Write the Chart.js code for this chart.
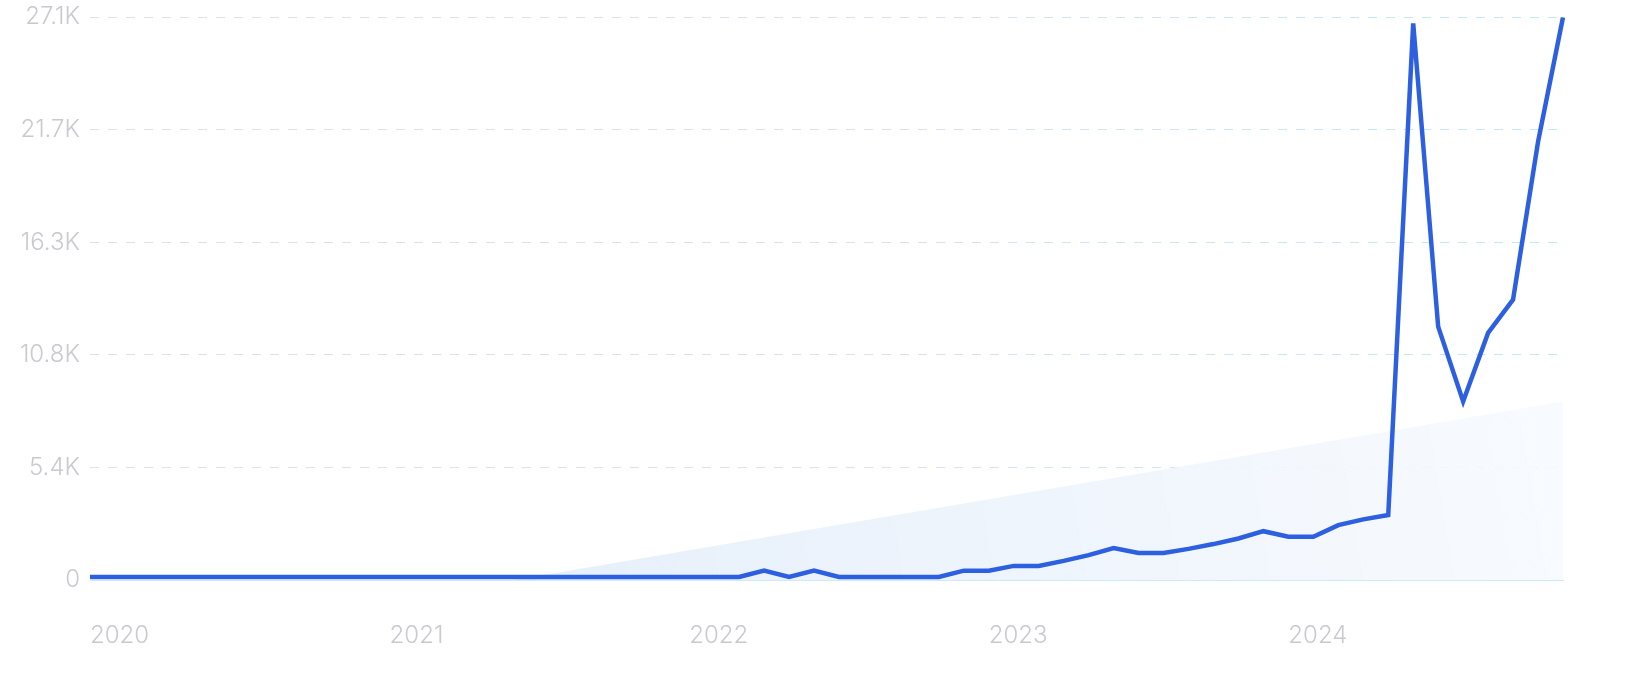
<!DOCTYPE html>
<html>
<head>
<meta charset="utf-8">
<script src="https://cdn.jsdelivr.net/npm/chart.js@4.4.0/dist/chart.umd.min.js"></script>
<style>
    html, body { margin: 0; padding: 0; background: #fff; }
    .chart-container { width: 1641px; height: 700px; position: relative; }
</style>
</head>
<body>
<div class="chart-container"><canvas id="trendChart"></canvas></div>
<script>
// Monthly categories, Jan 2020 .. Dec 2024
const months = [
    'Jan 2020', 'Feb 2020', 'Mar 2020', 'Apr 2020', 'May 2020', 'Jun 2020', 'Jul 2020', 'Aug 2020', 'Sep 2020', 'Oct 2020', 'Nov 2020', 'Dec 2020',
    'Jan 2021', 'Feb 2021', 'Mar 2021', 'Apr 2021', 'May 2021', 'Jun 2021', 'Jul 2021', 'Aug 2021', 'Sep 2021', 'Oct 2021', 'Nov 2021', 'Dec 2021',
    'Jan 2022', 'Feb 2022', 'Mar 2022', 'Apr 2022', 'May 2022', 'Jun 2022', 'Jul 2022', 'Aug 2022', 'Sep 2022', 'Oct 2022', 'Nov 2022', 'Dec 2022',
    'Jan 2023', 'Feb 2023', 'Mar 2023', 'Apr 2023', 'May 2023', 'Jun 2023', 'Jul 2023', 'Aug 2023', 'Sep 2023', 'Oct 2023', 'Nov 2023', 'Dec 2023',
    'Jan 2024', 'Feb 2024', 'Mar 2024', 'Apr 2024', 'May 2024', 'Jun 2024', 'Jul 2024', 'Aug 2024', 'Sep 2024', 'Oct 2024', 'Nov 2024', 'Dec 2024'
];

// Search volume
const volume = [
    150, 150, 150, 150, 150, 150, 150, 150, 150, 150, 150, 150,
    150, 150, 150, 150, 150, 150, 150, 150, 150, 150, 150, 150,
    150, 150, 150, 450, 150, 450, 150, 150, 150, 150, 150, 450,
    450, 680, 680, 920, 1200, 1540, 1300, 1300, 1500, 1730, 2000, 2350,
    2080, 2080, 2640, 2920, 3130, 26800, 12200, 8600, 11900, 13500, 21100, 27100
];

// Trend line end points (month, value)
const trendStart = ['Jun 2021', 0];
const trendEnd = ['Dec 2024', 8600];

const yMax = 27100;
const yStep = 5420;

const fontFamily = 'Inter, "Noto Sans", sans-serif';
const tickColor = '#c9cad1';

function formatK(value) {
    if (value === 0) return '0';
    return (value / 1000).toFixed(1) + 'K';
}

const ctx = document.getElementById('trendChart').getContext('2d');

const chart = new Chart(ctx, {
    type: 'line',
    data: {
        labels: months,
        datasets: [
            {
                label: 'Volume',
                data: volume,
                borderColor: '#2d5fe1',
                borderWidth: 4.5,
                pointRadius: 0,
                tension: 0,
                fill: false,
                order: 0
            },
            {
                label: 'Trend',
                data: [
                    { x: trendStart[0], y: trendStart[1] },
                    { x: trendEnd[0], y: trendEnd[1] }
                ],
                borderWidth: 0,
                borderColor: 'rgba(0,0,0,0)',
                pointRadius: 0,
                fill: 'origin',
                order: 1,
                backgroundColor: function(context) {
                    const area = context.chart.chartArea;
                    if (!area) return 'rgba(230, 239, 251, 0.8)';
                    const g = context.chart.ctx.createLinearGradient(area.left + 400, area.bottom, area.right, area.bottom - 180);
                    g.addColorStop(0, 'rgba(228, 238, 250, 0.95)');
                    g.addColorStop(1, 'rgba(247, 250, 254, 0.9)');
                    return g;
                }
            }
        ]
    },
    options: {
        responsive: true,
        maintainAspectRatio: false,
        animation: false,
        layout: {
            padding: { top: 4, right: 78, left: 0, bottom: 0 }
        },
        plugins: {
            legend: { display: false },
            tooltip: { enabled: false }
        },
        scales: {
            x: {
                grid: { display: false, drawTicks: false },
                border: { display: true, color: '#cdeaf6', width: 1 },
                afterFit: function(scale) {
                    scale.height = 120;
                },
                ticks: {
                    autoSkip: false,
                    maxRotation: 0,
                    minRotation: 0,
                    align: 'start',
                    padding: 44,
                    color: tickColor,
                    font: { family: fontFamily, size: 24, weight: 300, lineHeight: 1 },
                    callback: function(value, index) {
                        const label = months[index];
                        return label.startsWith('Jan') ? label.slice(4) : null;
                    }
                }
            },
            y: {
                min: 0,
                max: yMax,
                afterFit: function(scale) {
                    scale.width = 90;
                },
                grid: {
                    drawTicks: false,
                    lineWidth: 1,
                    color: function(context) {
                        const area = context.chart.chartArea;
                        if (!area) return '#dfe3ea';
                        const g = context.chart.ctx.createLinearGradient(area.left, 0, area.right, 0);
                        g.addColorStop(0, '#dde1e8');
                        g.addColorStop(0.5, '#dbe1f2');
                        g.addColorStop(1, '#c4e7f5');
                        return g;
                    }
                },
                border: { display: false, dash: [9, 9] },
                ticks: {
                    stepSize: yStep,
                    padding: 10,
                    color: tickColor,
                    font: { family: fontFamily, size: 24, weight: 300, lineHeight: 0.6 },
                    callback: function(value) {
                        return formatK(value);
                    }
                }
            }
        }
    }
});
</script>
</body>
</html>
